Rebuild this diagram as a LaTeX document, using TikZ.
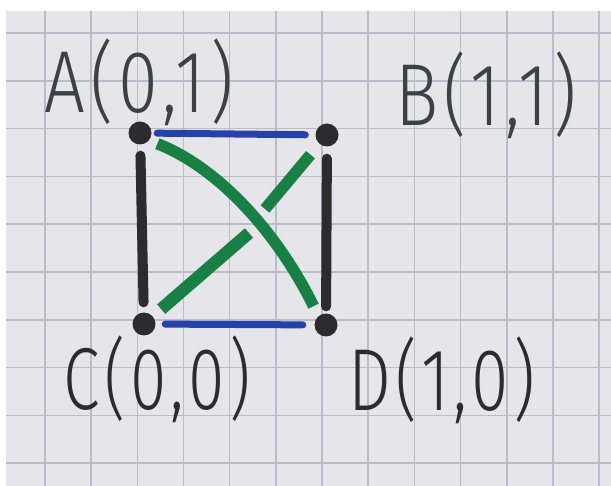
\documentclass[tikz,border=0pt]{standalone}
\usepackage{fontspec}
\usepackage{graphicx}
\newfontfamily\hand[LetterSpace=7]{Fira Sans Light}
\definecolor{paper}{RGB}{229,229,234}
\definecolor{gridc}{RGB}{188,188,200}
\definecolor{ink}{RGB}{44,44,46}
\definecolor{pencil}{RGB}{62,64,70}
\definecolor{mblue}{RGB}{36,66,170}
\definecolor{mgreen}{RGB}{24,128,68}
\tikzset{
  gridline/.style={draw=gridc, line width=1.6pt},
  dot/.style={circle, fill=ink, draw=none, minimum size=23pt, inner sep=0pt},
  lbl/.style={font=\hand\fontsize{88}{96}\selectfont, inner sep=0pt, anchor=base},
  blueline/.style={draw=mblue, line width=7pt, line cap=round},
  blackline/.style={draw=ink, line width=10pt, line cap=round},
  greenline/.style={draw=mgreen, line width=11.5pt, line cap=butt},
}
\begin{document}
\begin{tikzpicture}[x=1pt,y=-1pt]
\useasboundingbox (0,0) rectangle (611,486);
\fill[white] (0,0) rectangle (611,486);
\fill[paper] (6,11) rectangle (611,486);
\foreach \k in {0,...,12} \draw[gridline] ({45+46.17*\k},11) -- ({45+46.17*\k},486);
\foreach \k in {0,...,9} \draw[gridline] (6,{33+47.8*\k}) -- (611,{33+47.8*\k});

% points
\node[dot] (A) at (140,133) {};
\node[dot] (B) at (327,135) {};
\node[dot] (C) at (144,324) {};
\node[dot] (D) at (326,325) {};

% labels
\node[lbl, text=pencil] (lA) at (139,113) {\scalebox{0.82}[1]{A(0,1)}};
\node[lbl, text=pencil] (lB) at (486,126) {\scalebox{0.82}[1]{B(1,1)}};
\node[lbl, text=ink] (lC) at (157,410) {\scalebox{0.75}[1]{C(0,0)}};
\node[lbl, text=ink] (lD) at (442,411) {\scalebox{0.77}[1]{D(1,0)}};

% blue horizontal edges
\draw[blueline, yshift=-3.5pt, shorten <=5.5pt, shorten >=10pt] (A) -- (B);
\draw[blueline, yshift=1.5pt, shorten <=9.5pt, shorten >=11.5pt] (C) -- (D);

% black vertical edges
\draw[blackline, shorten <=11pt, shorten >=10pt] (A) -- (C);
\draw[blackline, shorten <=12pt, shorten >=7pt] (B) -- (D);

% green diagonal A-D (continuous)
\draw[greenline, shorten <=9pt, shorten >=11pt] (A.-40) .. controls (215,166) and (275,228) .. (D.130);

% green diagonal C-B (broken where it passes under A-D)
\coordinate (g1) at (249,233);
\coordinate (g2) at (265,209);
\draw[greenline, line width=12.5pt, shorten <=11pt] (C) -- (g1);
\draw[greenline, shorten >=14pt] (g2) -- (B);
\end{tikzpicture}
\end{document}
